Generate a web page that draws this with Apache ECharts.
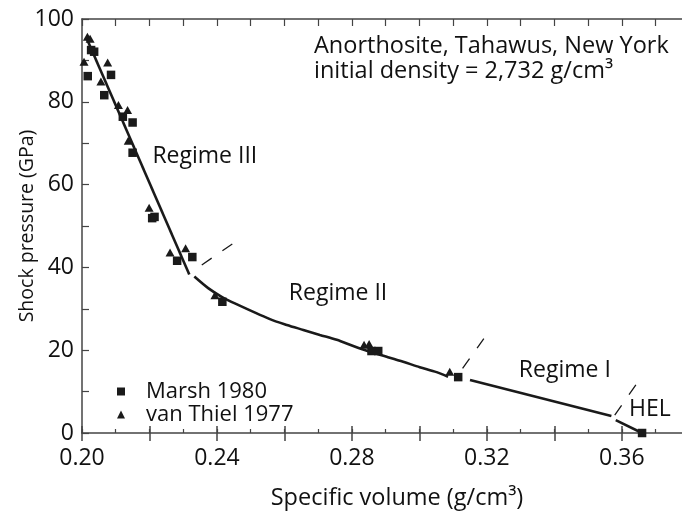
<!DOCTYPE html>
<html>
<head>
<meta charset="utf-8">
<script src="https://cdn.jsdelivr.net/npm/echarts@6/dist/echarts.min.js"></script>
<style>
  html, body { margin: 0; padding: 0; background: #fff; }
  #chart { width: 682px; height: 519px; }
</style>
</head>
<body>
<div id="chart"></div>
<script>
// 数据点
const marshX = [0.2027, 0.2036, 0.2017, 0.2086, 0.2066, 0.2121, 0.2150, 0.2150, 0.2208, 0.2215, 0.2282, 0.2327, 0.2416, 0.2858, 0.2878, 0.3115, 0.3660]
const marshY = [92.5, 92.1, 86.2, 86.5, 81.6, 76.4, 75.0, 67.7, 51.9, 52.2, 41.6, 42.5, 31.7, 19.8, 19.8, 13.5, 0]
const thielX = [0.2016, 0.2024, 0.2006, 0.2076, 0.2056, 0.2108, 0.2135, 0.2137, 0.2199, 0.2261, 0.2307, 0.2394, 0.2836, 0.2851, 0.3090]
const thielY = [95.7, 95.2, 89.7, 89.5, 84.9, 79.2, 78.0, 70.6, 54.4, 43.6, 44.6, 33.3, 21.3, 21.5, 14.8]

// 拟合曲线
const regime3 = [[0.2014, 95.3], [0.2318, 38.3]]
const regime2X = [0.2333, 0.2374, 0.2414, 0.2453, 0.2557, 0.2607, 0.2656, 0.2705, 0.2755, 0.2804, 0.2853, 0.2903, 0.2952, 0.3001, 0.3051, 0.3085]
const regime2Y = [37.8, 35.0, 32.9, 31.3, 27.5, 26.1, 24.9, 23.7, 22.5, 21.0, 19.6, 18.4, 17.2, 15.9, 14.7, 13.6]
const regime1 = [[0.3150, 12.8], [0.3569, 4.1]]
const helLine = [[0.3582, 3.1], [0.3660, 0]]

// 分区边界虚线
const boundaries = [
  [[0.2355, 40.6], [0.2450, 45.9]],
  [[0.3128, 15.6], [0.3191, 22.8]],
  [[0.3579, 4.3], [0.3643, 11.8]],
]

// 注释文字
const annoText = ['Regime III', 'Regime II', 'Regime I', 'HEL']
const annoX = [0.2364, 0.2759, 0.3431, 0.3683]
const annoY = [66.7, 33.8, 15.2, 5.8]

// 刻度
const xLabels = [0.20, 0.24, 0.28, 0.32, 0.36]
const yLabels = [0, 20, 40, 60, 80, 100]

const FONT = '"Open Sans", "Noto Sans", sans-serif'
const INK = '#1a1a1a'
const AXIS = '#444'
const X_MIN = 0.2
const X_MAX = 0.3808

const zip = (xs, ys) => xs.map((x, i) => [x, ys[i]])

function baseX(extra) {
  return Object.assign({
    type: 'value',
    min: X_MIN,
    max: X_MAX,
    position: 'bottom',
    splitLine: { show: false },
    axisLine: { show: false, onZero: false },
    axisLabel: { show: false },
  }, extra)
}

const lineStyle = { color: INK, width: 2.6 }

const option = {
  animation: false,
  backgroundColor: '#fff',
  textStyle: { fontFamily: FONT },
  title: {
    text: 'Anorthosite, Tahawus, New York\ninitial density = 2,732 g/cm³',
    left: 314,
    top: 34,
    padding: 0,
    textStyle: { fontFamily: FONT, fontSize: 23.5, fontWeight: 'normal', color: '#111', lineHeight: 25 },
  },
  legend: {
    orient: 'vertical',
    left: 112,
    top: 375,
    itemGap: 0,
    itemWidth: 8,
    itemHeight: 8,
    data: [
      { name: 'Marsh 1980', icon: 'rect' },
      { name: 'van Thiel 1977', icon: 'triangle' },
    ],
    textStyle: { fontFamily: FONT, fontSize: 22, color: '#111', lineHeight: 23, padding: [0, 0, 0, 16] },
  },
  grid: { left: 82, right: -10, top: 19, bottom: 86, outerBoundsMode: 'none' },
  xAxis: [
    // 主轴：标签 + 向外刻度
    baseX({
      interval: 0.02,
      axisLine: { show: true, onZero: false, lineStyle: { color: AXIS, width: 1.5 } },
      axisTick: { show: true, inside: false, length: 8, lineStyle: { color: AXIS, width: 1.5 } },
      axisLabel: {
        show: true,
        margin: 14,
        fontFamily: FONT,
        fontSize: 23,
        color: '#111',
        showMaxLabel: false,
        formatter: v => (xLabels.some(l => Math.abs(l - v) < 1e-6) ? v.toFixed(2) : ''),
      },
      name: 'Specific volume (g/cm³)',
      nameLocation: 'middle',
      nameGap: 53,
      nameMoveOverlap: false,
      nameTextStyle: { fontFamily: FONT, fontSize: 23.5, color: '#111', padding: [0, 0, 0, 20] },
    }),
    // 主刻度向内部分
    baseX({ interval: 0.02, axisTick: { show: true, inside: true, length: 7, lineStyle: { color: AXIS, width: 1.5 } } }),
    // 次刻度
    baseX({ interval: 0.01, axisTick: { show: true, inside: true, length: 4, lineStyle: { color: AXIS, width: 1.2 } } }),
    // 顶部边框
    baseX({
      position: 'top',
      interval: 0.01,
      axisLine: { show: true, onZero: false, lineStyle: { color: AXIS, width: 1.5 } },
      axisTick: { show: true, inside: true, length: 7, lineStyle: { color: AXIS, width: 1.2 } },
    }),
  ],
  yAxis: {
    type: 'value',
    min: 0,
    max: 100,
    interval: 10,
    splitLine: { show: false },
    axisLine: { show: true, onZero: false, lineStyle: { color: AXIS, width: 1.5 } },
    axisTick: { show: true, inside: true, length: 7, lineStyle: { color: AXIS, width: 1.2 } },
    axisLabel: {
      margin: 8,
      fontFamily: FONT,
      fontSize: 23,
      color: '#111',
      formatter: v => (yLabels.includes(v) ? String(v) : ''),
    },
    name: 'Shock pressure (GPa)',
    nameLocation: 'middle',
    nameGap: 45,
    nameMoveOverlap: false,
    nameTextStyle: { fontFamily: FONT, fontSize: 19.5, color: '#111' },
  },
  series: [
    { type: 'line', data: regime3, symbol: 'none', lineStyle, z: 3 },
    { type: 'line', data: zip(regime2X, regime2Y), symbol: 'none', smooth: 0.3, lineStyle, z: 3 },
    { type: 'line', data: regime1, symbol: 'none', lineStyle, z: 3 },
    { type: 'line', data: helLine, symbol: 'none', lineStyle, z: 3 },
    ...boundaries.map(seg => ({
      type: 'line',
      data: seg,
      symbol: 'none',
      lineStyle: { color: INK, width: 1.3, type: [12, 13] },
      z: 3,
    })),
    {
      name: 'Marsh 1980',
      type: 'scatter',
      data: zip(marshX, marshY),
      symbol: 'rect',
      symbolSize: 8.5,
      itemStyle: { color: INK, opacity: 1 },
      z: 5,
    },
    {
      name: 'van Thiel 1977',
      type: 'scatter',
      data: zip(thielX, thielY),
      symbol: 'triangle',
      symbolSize: [9, 8],
      itemStyle: { color: INK, opacity: 1 },
      z: 5,
    },
    {
      type: 'scatter',
      data: annoText.map((t, i) => ({ value: [annoX[i], annoY[i]], name: t })),
      symbolSize: 1,
      itemStyle: { color: 'rgba(0,0,0,0)', opacity: 1 },
      silent: true,
      label: {
        show: true,
        position: 'inside',
        formatter: p => p.name,
        fontFamily: FONT,
        fontSize: 23,
        color: '#111',
      },
      z: 6,
    },
  ],
}

const chartInstance = echarts.init(document.getElementById('chart'), null, { renderer: 'canvas' })
chartInstance.setOption(option)
window.addEventListener('resize', () => chartInstance.resize())
</script>
</body>
</html>
